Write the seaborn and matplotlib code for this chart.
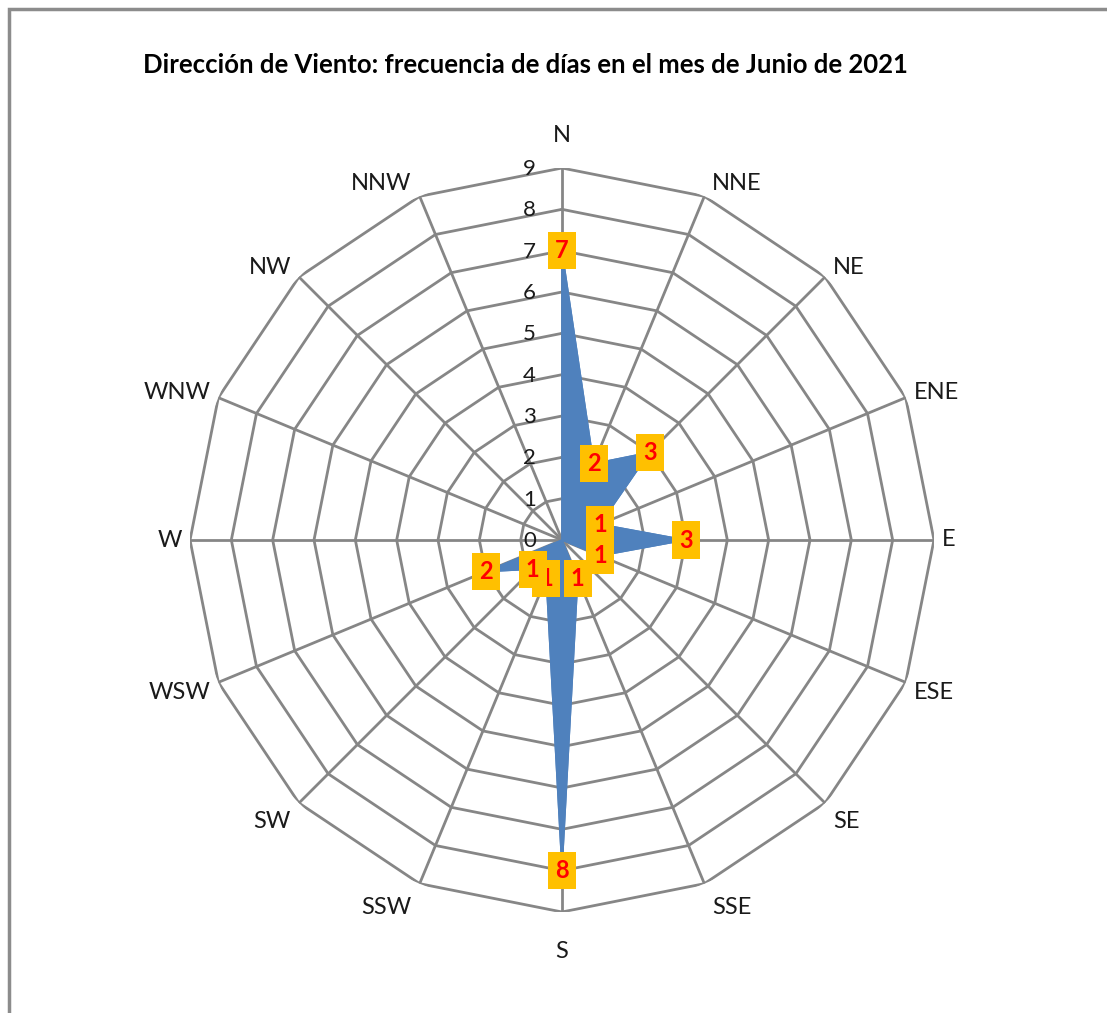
import numpy as np
import matplotlib
matplotlib.use('Agg')
import matplotlib.pyplot as plt
import seaborn as sns
from matplotlib.patches import Rectangle

sns.set_theme(style='white')
plt.rcParams['font.family'] = ['Lato', 'DejaVu Sans']

TITLE = 'Dirección de Viento: frecuencia de días en el mes de Junio de 2021'
directions = ['N', 'NNE', 'NE', 'ENE', 'E', 'ESE', 'SE', 'SSE',
              'S', 'SSW', 'SW', 'WSW', 'W', 'WNW', 'NW', 'NNW']
days = [7, 2, 3, 1, 3, 1, 0, 1, 8, 1, 1, 2, 0, 0, 0, 0]
rings = list(range(0, 10))

BLUE = '#4F81BD'
GRID = '#868686'
PX = 0.72  # points per pixel at dpi 100


def main():
    fig = plt.figure(figsize=(11.07, 10.13), dpi=100)
    fig.patch.set_facecolor('white')

    # grey frame like the Excel chart area (only top/left visible)
    fig.patches.append(Rectangle((9 / 1107, -0.05), 1.2, 1 - 9 / 1013 + 0.05,
                                 transform=fig.transFigure, fill=False,
                                 edgecolor='#8c8c8c', linewidth=2.5))

    cx, cy, rad = 562, 540, 372
    ax = fig.add_axes([(cx - rad) / 1107, (1013 - cy - rad) / 1013,
                       2 * rad / 1107, 2 * rad / 1013], projection='polar')
    ax.set_theta_zero_location('N')
    ax.set_theta_direction(-1)
    ax.set_ylim(0, max(rings))
    ax.grid(False)
    ax.spines['polar'].set_visible(False)
    ax.set_xticks([])
    ax.set_yticks([])
    ax.set_facecolor('none')

    n = len(directions)
    theta = np.linspace(0, 2 * np.pi, n, endpoint=False)
    theta_c = np.append(theta, theta[0])

    # polygon grid
    for r in rings[1:]:
        ax.plot(theta_c, [r] * (n + 1), color=GRID, lw=2, zorder=1)
    for t in theta:
        ax.plot([t, t], [0, max(rings)], color=GRID, lw=2, zorder=1)

    # radial value labels along the N spoke
    for r in rings:
        ax.annotate(str(r), xy=(0, r), xytext=(-26 * PX, -1 * PX), textcoords='offset points',
                    ha='right', va='center', fontsize=16, color='#1a1a1a')

    # direction labels, anchored beside the outer vertex
    rmax = max(rings)
    for t, d in zip(theta, directions):
        s, c = np.sin(t), np.cos(t)
        if abs(s) < 1e-6:
            ha, dx = 'center', 0
            dy = 33 if c > 0 else -40
        else:
            ha = 'left' if s > 0 else 'right'
            dx = 8 if s > 0 else -8
            dy = c * (14 if c > 0 else 26)
        ax.annotate(d, xy=(t, rmax), xytext=(dx * PX, dy * PX), textcoords='offset points',
                    ha=ha, va='center', fontsize=17, color='#1a1a1a')

    # data
    vals = np.append(days, days[0])
    ax.fill(theta_c, vals, color=BLUE, zorder=2)
    ax.plot(theta_c, vals, color=BLUE, lw=1, zorder=2)

    for t, v in zip(theta, days):
        if v == 0:
            continue
        ax.text(t, v, str(v), ha='center', va='center', fontsize=17,
                fontweight='bold', color='#FF0000', zorder=4,
                bbox=dict(boxstyle='square,pad=0.3', fc='#FFC000', ec='none'))

    fig.text(143 / 1107, 1 - 65 / 1013, TITLE, ha='left', va='center',
             fontsize=18.5, fontweight='bold', color='black')

    fig.savefig('out.png', dpi=100)


if __name__ == '__main__':
    main()
